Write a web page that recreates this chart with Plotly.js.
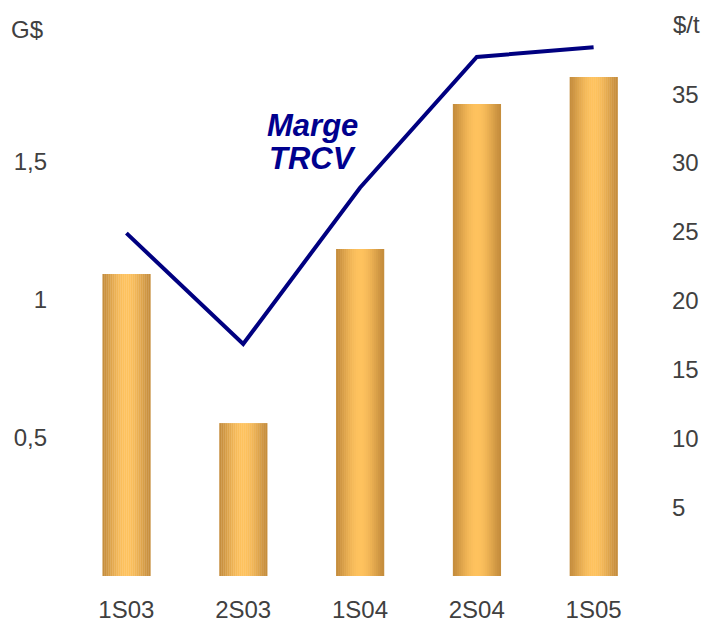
<!DOCTYPE html>
<html>
<head>
<meta charset="utf-8">
<script src="https://cdn.plot.ly/plotly-3.0.1.min.js"></script>
<style>html,body{margin:0;padding:0;background:#fff;}#chart{width:708px;height:624px;}</style>
</head>
<body>
<div id="chart"></div>
<script>
const categories = ['1S03', '2S03', '1S04', '2S04', '1S05'];
const revenueGD = [1.094, 0.554, 1.185, 1.71, 1.808];
const margeTRCV = [24.9, 16.85, 28.2, 37.7, 38.4];
const leftTickVals = [0.5, 1, 1.5];
const leftTickText = ['0,5', '1', '1,5'];
const rightTickVals = [5, 10, 15, 20, 25, 30, 35];

const N = 24;
const barW = 0.41;
const dark = [196, 140, 60];
const light = [254, 194, 94];
function sliceColor(t) {
  const k = Math.pow(Math.cos((t - 0.5) * Math.PI), 1.3);
  const c = dark.map((d, j) => Math.round(d + (light[j] - d) * k));
  return 'rgb(' + c.join(',') + ')';
}
const traces = [];
for (let i = 0; i < N; i++) {
  const t = (i + 0.5) / N;
  traces.push({
    type: 'bar', x: categories, y: revenueGD,
    width: barW / N * 1.15, offset: -barW / 2 + i * barW / N,
    marker: { color: sliceColor(t), line: { width: 0 } },
    hoverinfo: 'skip', showlegend: false
  });
}
traces.push({
  type: 'scatter', mode: 'lines', x: categories, y: margeTRCV, yaxis: 'y2',
  line: { color: '#000080', width: 4 }, showlegend: false
});

const font = { family: 'Liberation Sans, Arial, sans-serif', size: 24, color: '#404040' };
const aFont = { family: 'Liberation Sans, Arial, sans-serif', size: 31, color: '#00008E' };
const layout = {
  width: 708, height: 624,
  margin: { l: 68, r: 56, t: 40, b: 48 },
  paper_bgcolor: '#fff', plot_bgcolor: '#fff',
  font: font,
  barmode: 'overlay',
  showlegend: false,
  xaxis: { showgrid: false, zeroline: false, showline: false, ticks: '', tickfont: font, ticklabelstandoff: 17 },
  yaxis: { range: [0, 1.942], tickvals: leftTickVals, ticktext: leftTickText, showgrid: false, zeroline: false, showline: false, ticks: '', tickfont: font, ticklabelstandoff: 20 },
  yaxis2: { overlaying: 'y', side: 'right', range: [0, 38.93], tickvals: rightTickVals, showgrid: false, zeroline: false, showline: false, ticks: '', tickfont: font, ticklabelstandoff: 19 },
  annotations: [
    { xref: 'paper', yref: 'paper', x: -0.101, y: 1.0187, xanchor: 'left', yanchor: 'middle', text: 'G$', showarrow: false, font: font },
    { xref: 'paper', yref: 'paper', x: 1.0325, y: 1.028, xanchor: 'left', yanchor: 'middle', text: '$/t', showarrow: false, font: font },
    { xref: 'paper', yref: 'paper', x: 0.4195, y: 0.8414, xanchor: 'center', yanchor: 'middle', text: '<b><i>Marge</i></b>', showarrow: false, font: aFont },
    { xref: 'paper', yref: 'paper', x: 0.4195, y: 0.778, xanchor: 'center', yanchor: 'middle', text: '<b><i>TRCV</i></b>', showarrow: false, font: aFont }
  ]
};
Plotly.newPlot('chart', traces, layout, { staticPlot: true, displayModeBar: false });
</script>
</body>
</html>
